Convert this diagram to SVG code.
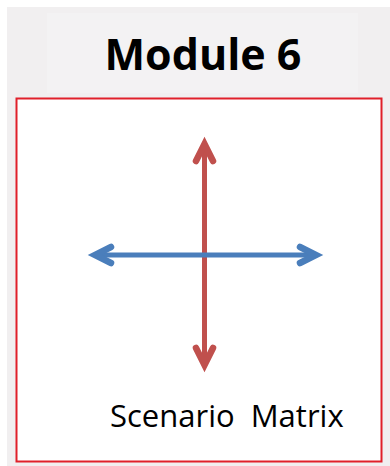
<svg xmlns="http://www.w3.org/2000/svg" width="390" height="466" viewBox="0 0 390 466">
<style>
.title{font-family:"Open Sans","Liberation Sans",sans-serif;font-weight:bold;font-size:43px;fill:#000}
.label{font-family:"Open Sans","Liberation Sans",sans-serif;font-size:31px;fill:#000;white-space:pre}
.red{stroke:#c0504d;stroke-width:5;fill:none;stroke-linecap:round;stroke-linejoin:miter}
.blue{stroke:#4a7ebb;stroke-width:5;fill:none;stroke-linecap:round;stroke-linejoin:miter}
.head{stroke-width:6.5}
</style>
<rect x="0" y="0" width="390" height="466" fill="#ffffff"/>
<rect x="7" y="7" width="383" height="459" fill="#f1eff0"/>
<rect x="47" y="13" width="311" height="80" fill="#f3f2f3"/>
<g id="title"><text class="title" x="203" y="70" text-anchor="middle">Module 6</text></g>
<g id="frame"><rect x="16.5" y="98.5" width="365" height="363" fill="#ffffff" stroke="#e0202a" stroke-width="2"/></g>
<g id="connectors">
<path class="red" d="M204.5 146 V363"/>
<path class="red head" d="M196 161 L204.5 144 L213 161"/>
<path class="red head" d="M196 348 L204.5 365 L213 348"/>
<path class="blue" d="M97 255 H314"/>
<path class="blue head" d="M111 247 L95 255 L111 263"/>
<path class="blue head" d="M300 247 L316 255 L300 263"/>
</g>
<g id="label"><text class="label" x="110" y="427">Scenario  Matrix</text></g>
</svg>
